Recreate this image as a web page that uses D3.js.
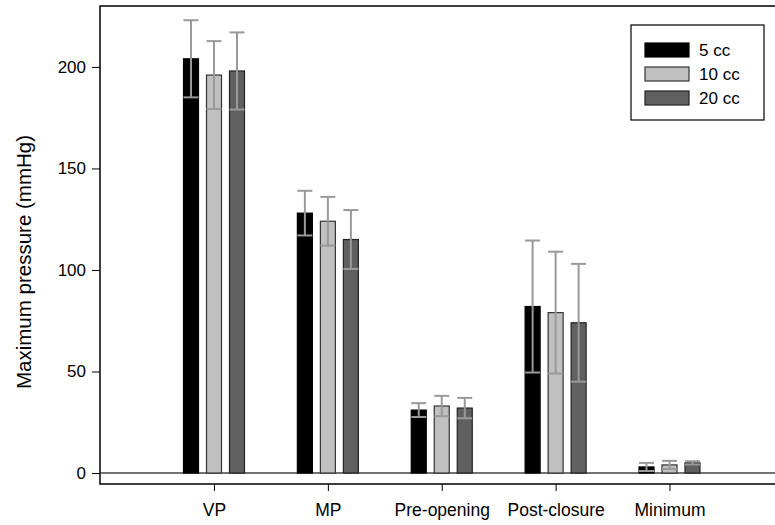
<!DOCTYPE html>
<html lang="en">
<head>
  <meta charset="UTF-8" />
  <title>Maximum pressure by volume</title>
  <style>
    body { margin: 0; padding: 0; background: #fff; font-family: Arial, "Liberation Sans", sans-serif; }
    #chart { display: block; }
  </style>
  <script src="https://d3js.org/d3.v7.min.js"></script>
</head>
<body>
<svg id="chart" width="775" height="525"></svg>

<script>
// data (mean and SD, mmHg)
const categories = ["VP", "MP", "Pre-opening", "Post-closure", "Minimum"];
const series = ["5 cc", "10 cc", "20 cc"];
const means5 = [204, 128, 31, 82, 3];
const means10 = [196, 124, 33, 79, 4];
const means20 = [198, 115, 32, 74, 5];
const sd5 = [19, 11, 3.4, 32.5, 2];
const sd10 = [16.7, 12, 5, 30, 2];
const sd20 = [19, 14.5, 5, 29, 0.8];
const yTicks = [0, 50, 100, 150, 200];

const fills = ["#000000", "#c0c0c0", "#606060"];
const strokes = ["#000000", "#333333", "#222222"];

const rows = [];
categories.forEach((c, i) => {
  rows.push({ cat: c, s: series[0], mean: means5[i], sd: sd5[i], k: 0 });
  rows.push({ cat: c, s: series[1], mean: means10[i], sd: sd10[i], k: 1 });
  rows.push({ cat: c, s: series[2], mean: means20[i], sd: sd20[i], k: 2 });
});

const svg = d3.select("#chart");
const plotLeft = 100, plotTop = 6, plotBottom = 484, plotRight = 790;

const y = d3.scaleLinear().domain([-5.4, 230]).range([plotBottom, plotTop]);
const x = d3.scalePoint().domain(categories).range([214, 669.5]);
const xs = d3.scaleBand().domain(series).range([-30.5, 30.5]).paddingInner(0.348);

// frame
svg.append("path")
  .attr("d", `M${plotRight},${plotTop}H${plotLeft}V${plotBottom}H${plotRight}`)
  .attr("fill", "none").attr("stroke", "#000").attr("stroke-width", 1.5);

// zero reference line
svg.append("line")
  .attr("x1", plotLeft).attr("x2", plotRight)
  .attr("y1", y(0)).attr("y2", y(0))
  .attr("stroke", "#444").attr("stroke-width", 1.5);

// y axis
const yAxis = svg.append("g")
  .attr("transform", `translate(${plotLeft},0)`)
  .call(d3.axisLeft(y).tickValues(yTicks).tickSize(8).tickPadding(6));
yAxis.select(".domain").remove();
yAxis.selectAll("line").attr("stroke", "#000");
yAxis.selectAll("text").attr("font-size", 17).attr("font-family", "Arial, 'Liberation Sans', sans-serif").attr("fill", "#000");

// x axis
const xAxis = svg.append("g")
  .attr("transform", `translate(0,${plotBottom})`)
  .call(d3.axisBottom(x).tickSize(7).tickPadding(13));
xAxis.select(".domain").remove();
xAxis.selectAll("line").attr("stroke", "#000");
xAxis.selectAll("text").attr("font-size", 17.5).attr("font-family", "Arial, 'Liberation Sans', sans-serif").attr("fill", "#000");

// axis title
svg.append("text")
  .attr("transform", `translate(31,262) rotate(-90)`)
  .attr("text-anchor", "middle")
  .attr("font-size", 20.5)
  .text("Maximum pressure (mmHg)");

// bars
const g = svg.append("g");
g.selectAll("rect.bar").data(rows).join("rect")
  .attr("class", "bar")
  .attr("x", d => x(d.cat) + xs(d.s))
  .attr("width", xs.bandwidth())
  .attr("y", d => y(d.mean))
  .attr("height", d => y(0) - y(d.mean))
  .attr("fill", d => fills[d.k])
  .attr("stroke", d => strokes[d.k])
  .attr("stroke-width", 1.2);

// error bars
const errColor = "#999999";
const eb = g.selectAll("g.err").data(rows).join("g").attr("class", "err");
eb.append("line")
  .attr("x1", d => x(d.cat) + xs(d.s) + xs.bandwidth() / 2)
  .attr("x2", d => x(d.cat) + xs(d.s) + xs.bandwidth() / 2)
  .attr("y1", d => y(Math.max(0, d.mean - d.sd)))
  .attr("y2", d => y(d.mean + d.sd))
  .attr("stroke", errColor).attr("stroke-width", 2);
eb.append("line")
  .attr("x1", d => x(d.cat) + xs(d.s))
  .attr("x2", d => x(d.cat) + xs(d.s) + xs.bandwidth())
  .attr("y1", d => y(d.mean + d.sd))
  .attr("y2", d => y(d.mean + d.sd))
  .attr("stroke", errColor).attr("stroke-width", 2);
eb.append("line")
  .attr("x1", d => x(d.cat) + xs(d.s))
  .attr("x2", d => x(d.cat) + xs(d.s) + xs.bandwidth())
  .attr("y1", d => y(Math.max(0, d.mean - d.sd)))
  .attr("y2", d => y(Math.max(0, d.mean - d.sd)))
  .attr("stroke", errColor).attr("stroke-width", 2);

// legend
const lg = svg.append("g").attr("transform", "translate(631,25)");
lg.append("rect").attr("width", 133).attr("height", 95)
  .attr("fill", "#fff").attr("stroke", "#000").attr("stroke-width", 1.2);
series.forEach((s, i) => {
  lg.append("rect")
    .attr("x", 14).attr("y", 18 + i * 24)
    .attr("width", 44).attr("height", 14)
    .attr("fill", fills[i]).attr("stroke", strokes[i]).attr("stroke-width", 1.2);
  lg.append("text")
    .attr("x", 68).attr("y", 31 + i * 24)
    .attr("font-size", 17)
    .text(s);
});
</script>
</body>
</html>
